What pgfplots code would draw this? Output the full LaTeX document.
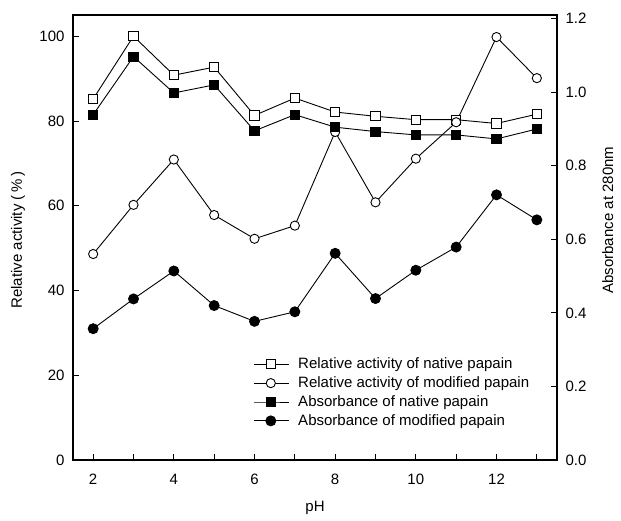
\documentclass[border=0pt]{standalone}
\usepackage{fontspec}
\setmainfont{Liberation Sans}
\usepackage{pgfplots}
\pgfplotsset{compat=1.18}
\newcommand{\ff}{\fontsize{15}{18}\selectfont}
\begin{document}
\begin{tikzpicture}
\pgfplotsset{
  base/.style={
    width=484pt, height=445pt, scale only axis,
    xmin=1.5, xmax=13.5,
    /pgf/number format/assume math mode=true,
    tick label style={font=\ff},
    label style={font=\ff},
    axis line style={line width=1.1pt},
    major tick length=6pt,
    tick style={line width=0.9pt, black},
    tick align=inside,
  },
}
\begin{axis}[base, name=ax,
  ymin=0, ymax=105,
  ytick={0,20,40,60,80,100},
  xtick={2,3,4,5,6,7,8,9,10,11,12,13},
  xticklabels={2,,4,,6,,8,,10,,12,},
  xtick pos=bottom, ytick pos=left,
  xticklabel style={anchor=center, yshift=-19pt},
  yticklabel style={xshift=-5pt},
  xlabel={pH},
  xlabel style={at={(axis description cs:0.5,-0.107)}, anchor=center},
  ylabel={Relative activity (\,\%\,)},
  ylabel style={at={(axis description cs:-0.1136,0.494)}, anchor=center},
]
\addplot[black, line width=0.9pt, mark=square*, mark size=4.6pt, mark options={fill=white, line width=0.9pt}]
  coordinates {(2,85.2)(3,100)(4,90.8)(5,92.7)(6,81.3)(7,85.4)(8,82.1)(9,81.1)(10,80.3)(11,80.3)(12,79.4)(13,81.6)};
\addplot[black, line width=0.9pt, mark=*, mark size=4.6pt, mark options={fill=white, line width=0.9pt}]
  coordinates {(2,48.6)(3,60.2)(4,70.9)(5,57.8)(6,52.2)(7,55.3)(8,77.4)(9,60.8)(10,71.1)(11,79.7)(12,99.8)(13,90.1)};
\end{axis}
\begin{axis}[base,
  ymin=0, ymax=1.21,
  axis x line=none,
  axis y line*=right,
  ytick={0,0.2,0.4,0.6,0.8,1.0,1.2},
  yticklabel style={xshift=5pt, /pgf/number format/.cd, fixed, fixed zerofill, precision=1},
  ylabel={Absorbance at 280nm},
  ylabel style={at={(axis description cs:1.105,0.539)}, anchor=center},
  legend style={at={(axis description cs:0.366,0.2385)}, anchor=north west,
    draw=none, fill=none, font=\ff, row sep=2.5pt},
  legend cell align=left,
  legend image code/.code={\draw[mark repeat=2, mark phase=2, #1] plot coordinates {(0pt,0pt) (17pt,0pt) (35pt,0pt)};
    \path (42pt,0pt);},
]
\addlegendimage{black, line width=0.9pt, mark=square*, mark size=4.6pt, mark options={fill=white, line width=0.9pt}}
\addlegendentry{Relative activity of native papain}
\addlegendimage{black, line width=0.9pt, mark=*, mark size=4.6pt, mark options={fill=white, line width=0.9pt}}
\addlegendentry{Relative activity of modified papain}
\addplot[black, line width=0.9pt, mark=square*, mark size=4.6pt, mark options={fill=black}]
  coordinates {(2,0.939)(3,1.097)(4,0.998)(5,1.020)(6,0.895)(7,0.939)(8,0.905)(9,0.893)(10,0.884)(11,0.884)(12,0.873)(13,0.900)};
\addlegendentry{Absorbance of native papain}
\addplot[black, line width=0.9pt, mark=*, mark size=5pt, mark options={fill=black}]
  coordinates {(2,0.357)(3,0.438)(4,0.514)(5,0.420)(6,0.377)(7,0.403)(8,0.562)(9,0.439)(10,0.516)(11,0.579)(12,0.721)(13,0.653)};
\addlegendentry{Absorbance of modified papain}
\end{axis}
\pgfresetboundingbox
\path[use as bounding box] ([shift={(-73pt,-60pt)}]ax.south west) rectangle +(621pt,520pt);
\end{tikzpicture}
\end{document}
